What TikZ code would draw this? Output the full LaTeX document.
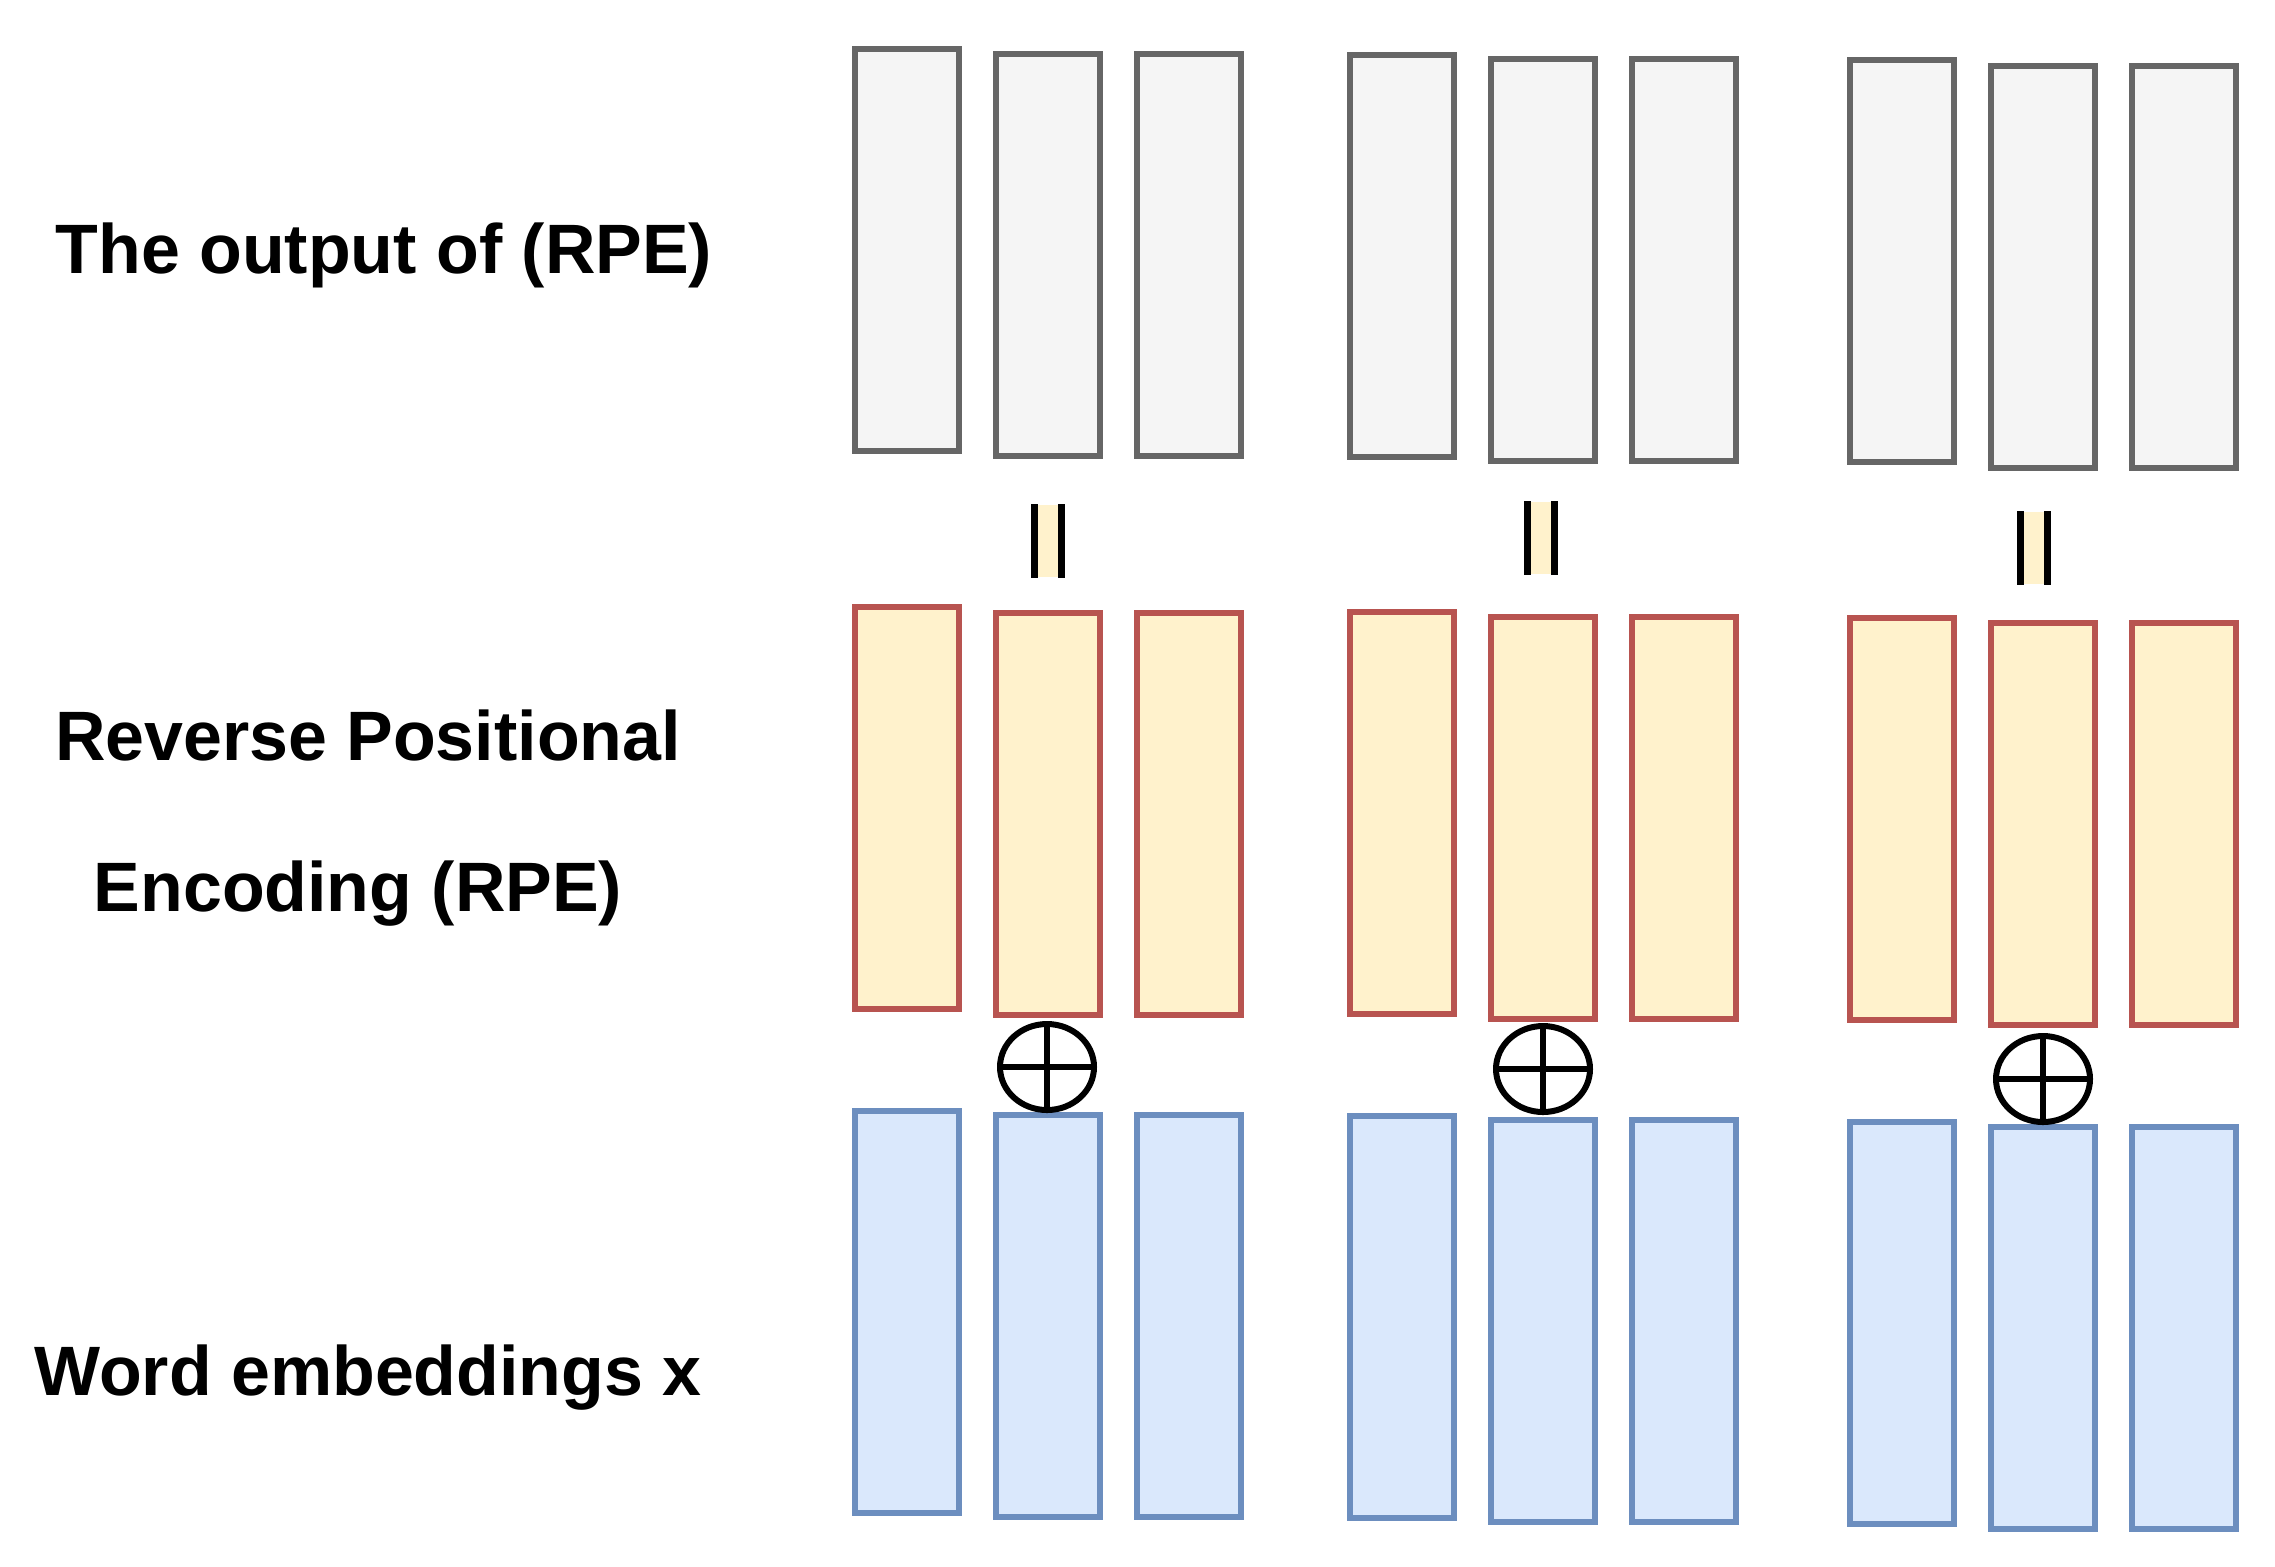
\documentclass[tikz,border=0pt]{standalone}
\usepackage{fontspec}
\setmainfont{Liberation Sans}
\usetikzlibrary{shapes.geometric}
\definecolor{outfill}{HTML}{F5F5F5}
\definecolor{outline}{HTML}{666666}
\definecolor{rpefill}{HTML}{FFF2CC}
\definecolor{rpeline}{HTML}{B85450}
\definecolor{wordfill}{HTML}{DAE8FC}
\definecolor{wordline}{HTML}{6C8EBF}
\tikzset{
	vec/.style={draw, rectangle, line width=0.06cm, minimum width=1.04cm, minimum height=4.02cm, inner sep=0pt},
	outvec/.style={vec, draw=outline, fill=outfill},
	rpevec/.style={vec, draw=rpeline, fill=rpefill},
	wordvec/.style={vec, draw=wordline, fill=wordfill},
	plusnode/.style={draw, ellipse, line width=0.06cm, minimum width=0.94cm, minimum height=0.86cm, inner sep=0pt},
	eqnode/.style={rectangle, fill=rpefill, minimum width=0.25cm, minimum height=0.72cm, inner sep=0pt},
	rowlabel/.style={font=\fontsize{19.9}{24}\selectfont\bfseries, anchor=base, inner sep=0pt}
}

\begin{document}
\begin{tikzpicture}
		%%%%% START %%%%%
		\useasboundingbox (0, 0) rectangle (22.75, -15.66);
		
		\node[rowlabel] (out-label) at (3.84, -2.73) {The output of (RPE)};
		\node[rowlabel] (rpe-label-a) at (3.68, -7.60) {Reverse Positional};
		\node[rowlabel] (rpe-label-b) at (3.58, -9.11) {Encoding (RPE)};
		\node[rowlabel] (word-label) at (3.68, -13.95) {Word embeddings x};
		
		% output of RPE
		\node[outvec] (out-1-1) at (9.07, -2.50) {};
		\node[outvec] (out-1-2) at (10.48, -2.55) {};
		\node[outvec] (out-1-3) at (11.89, -2.55) {};
		\node[outvec] (out-2-1) at (14.02, -2.56) {};
		\node[outvec] (out-2-2) at (15.43, -2.60) {};
		\node[outvec] (out-2-3) at (16.84, -2.60) {};
		\node[outvec] (out-3-1) at (19.02, -2.61) {};
		\node[outvec] (out-3-2) at (20.43, -2.67) {};
		\node[outvec] (out-3-3) at (21.84, -2.67) {};
		
		% reverse positional encoding
		\node[rpevec] (rpe-1-1) at (9.07, -8.08) {};
		\node[rpevec] (rpe-1-2) at (10.48, -8.14) {};
		\node[rpevec] (rpe-1-3) at (11.89, -8.14) {};
		\node[rpevec] (rpe-2-1) at (14.02, -8.13) {};
		\node[rpevec] (rpe-2-2) at (15.43, -8.18) {};
		\node[rpevec] (rpe-2-3) at (16.84, -8.18) {};
		\node[rpevec] (rpe-3-1) at (19.02, -8.19) {};
		\node[rpevec] (rpe-3-2) at (20.43, -8.24) {};
		\node[rpevec] (rpe-3-3) at (21.84, -8.24) {};
		
		% word embeddings
		\node[wordvec] (word-1-1) at (9.07, -13.12) {};
		\node[wordvec] (word-1-2) at (10.48, -13.16) {};
		\node[wordvec] (word-1-3) at (11.89, -13.16) {};
		\node[wordvec] (word-2-1) at (14.02, -13.17) {};
		\node[wordvec] (word-2-2) at (15.43, -13.21) {};
		\node[wordvec] (word-2-3) at (16.84, -13.21) {};
		\node[wordvec] (word-3-1) at (19.02, -13.23) {};
		\node[wordvec] (word-3-2) at (20.43, -13.28) {};
		\node[wordvec] (word-3-3) at (21.84, -13.28) {};
		
		% equal signs
		\node[eqnode] (eq-1) at (10.48, -5.41) {};
		\node[eqnode] (eq-2) at (15.41, -5.38) {};
		\node[eqnode] (eq-3) at (20.34, -5.48) {};
		\draw[line width=0.07cm] (eq-1.north west) -- (eq-1.south west) (eq-1.north east) -- (eq-1.south east);
		\draw[line width=0.07cm] (eq-2.north west) -- (eq-2.south west) (eq-2.north east) -- (eq-2.south east);
		\draw[line width=0.07cm] (eq-3.north west) -- (eq-3.south west) (eq-3.north east) -- (eq-3.south east);
		
		% additions
		\node[plusnode] (plus-1) at (10.47, -10.67) {};
		\node[plusnode] (plus-2) at (15.43, -10.69) {};
		\node[plusnode] (plus-3) at (20.43, -10.79) {};
		\draw[line width=0.06cm] (plus-1.north) -- (plus-1.south) (plus-1.west) -- (plus-1.east);
		\draw[line width=0.06cm] (plus-2.north) -- (plus-2.south) (plus-2.west) -- (plus-2.east);
		\draw[line width=0.06cm] (plus-3.north) -- (plus-3.south) (plus-3.west) -- (plus-3.east);
		
		%%%%% END %%%%%
\end{tikzpicture}
\end{document}
